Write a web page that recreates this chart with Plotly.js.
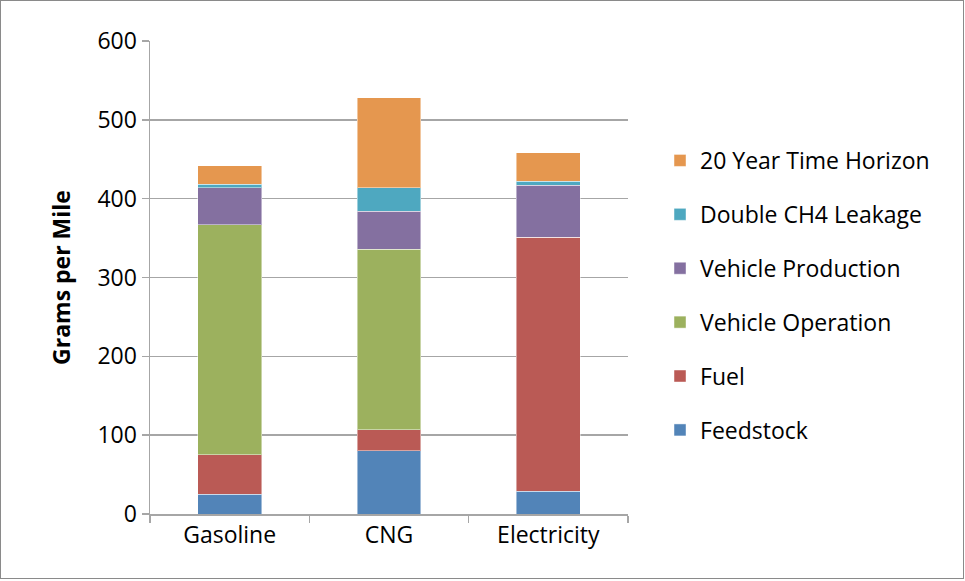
<!DOCTYPE html>
<html><head><meta charset="utf-8">
<script src="https://cdn.plot.ly/plotly-3.0.1.min.js"></script>
<style>
html,body{margin:0;padding:0;background:#fff;}
#frame{position:absolute;left:0;top:0;width:962px;height:577px;border:1px solid #8a8a8a;}
#chart{position:absolute;left:0;top:0;width:965px;height:581px;}
</style></head>
<body>
<div id="frame"></div>
<div id="chart"></div>
<script>
const categories = ['Gasoline', 'CNG', 'Electricity'];
const seriesNames = ['Feedstock', 'Fuel', 'Vehicle Operation', 'Vehicle Production', 'Double CH4 Leakage', '20 Year Time Horizon'];
const feedstock = [25, 80, 29];
const fuel = [50, 27, 322];
const vehicleOperation = [292, 229, 0];
const vehicleProduction = [47, 48, 66];
const doubleCH4 = [4, 30, 5];
const twentyYear = [24, 114, 36];
const yTicks = [0, 100, 200, 300, 400, 500, 600];

const seriesValues = [feedstock, fuel, vehicleOperation, vehicleProduction, doubleCH4, twentyYear];
const colors = ['#5284B8', '#BA5A55', '#9CB15E', '#8470A0', '#4EA8C0', '#E5974F'];

const traces = seriesNames.map((n, i) => ({
  type: 'bar', name: n, x: categories, y: seriesValues[i],
  legendgroup: 'g' + i, legendrank: 1000 - i,
  marker: {color: colors[i], line: {color: 'rgba(255,255,255,0.45)', width: 1}},
  hoverinfo: 'name+y'
}));

const font = '"Open Sans", sans-serif';
const layout = {
  width: 965, height: 581,
  margin: {l: 150, r: 337, t: 41, b: 67},
  paper_bgcolor: 'rgba(0,0,0,0)', plot_bgcolor: '#fff',
  barmode: 'stack', bargap: 0.6,
  font: {family: font, size: 23, color: '#000'},
  showlegend: true,
  legend: {x: 1.067, xanchor: 'left', y: 0.462, yanchor: 'middle',
    traceorder: 'grouped', tracegroupgap: 21, font: {family: font, size: 23, color: '#000'}},
  xaxis: {type: 'category', showline: true, linecolor: '#a6a6a6', linewidth: 1.5,
    ticks: 'outside', tickson: 'boundaries', ticklen: 7, tickcolor: '#a6a6a6', tickwidth: 1.5,
    showgrid: false, tickfont: {family: font, size: 23}},
  yaxis: {range: [0, 600], tickvals: yTicks, showline: true, linecolor: '#a6a6a6', linewidth: 1.5,
    ticks: 'outside', ticklen: 7, tickcolor: '#a6a6a6', tickwidth: 1.5,
    showgrid: true, gridcolor: '#a6a6a6', gridwidth: 1.5, zeroline: false,
    tickfont: {family: font, size: 23},
    title: {text: '<b>Grams per Mile</b>', font: {family: font, size: 23}, standoff: 20}}
};
Plotly.newPlot('chart', traces, layout, {displayModeBar: false, staticPlot: true});
</script>
</body></html>
